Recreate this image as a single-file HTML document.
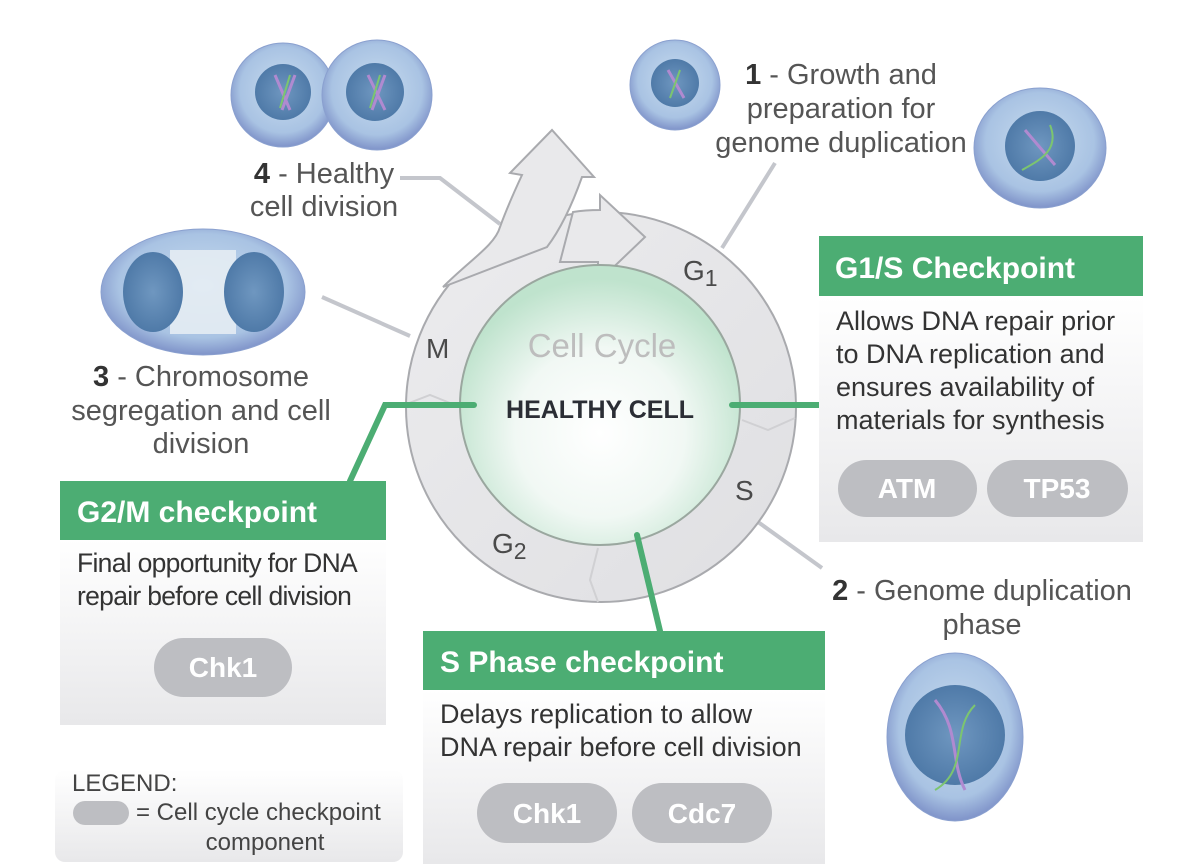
<!DOCTYPE html>
<html><head><meta charset="utf-8"><style>
body{margin:0;background:#fff;}
svg{display:block;font-family:"Liberation Sans",sans-serif;}
</style></head><body>
<svg width="1200" height="864" viewBox="0 0 1200 864" xmlns="http://www.w3.org/2000/svg">
<defs>
<radialGradient id="cellg" cx="50%" cy="45%" r="55%">
<stop offset="0" stop-color="#c8dcef"/><stop offset="0.75" stop-color="#a9c3e3"/><stop offset="1" stop-color="#7f93c9"/></radialGradient>
<radialGradient id="nucg" cx="50%" cy="50%" r="50%">
<stop offset="0" stop-color="#6f97c0"/><stop offset="1" stop-color="#4f7aa8"/></radialGradient>
<radialGradient id="greeng" cx="50%" cy="60%" r="55%">
<stop offset="0" stop-color="#ffffff"/><stop offset="0.55" stop-color="#f1f8f4"/><stop offset="1" stop-color="#bfe3cd"/></radialGradient>
<linearGradient id="boxg" x1="0" y1="0" x2="0" y2="1"><stop offset="0" stop-color="#fff"/><stop offset="1" stop-color="#e8e8ea"/></linearGradient>
<linearGradient id="ringg" x1="0" y1="0" x2="1" y2="1"><stop offset="0" stop-color="#ececee"/><stop offset="1" stop-color="#dfdfe2"/></linearGradient>
</defs>

<g stroke="#c4c6cc" stroke-width="4" fill="none">
<polyline points="400,178 440,178 500,224"/>
<line x1="775" y1="163" x2="722" y2="248"/>
<line x1="322" y1="297" x2="410" y2="336"/>
<line x1="758" y1="522" x2="822" y2="568"/>
</g>

<circle cx="601" cy="407" r="195" fill="url(#ringg)" stroke="#a9aaae" stroke-width="2"/>
<path d="M443,287 C470,260 495,245 500,227 C508,205 515,190 522,175 L510,173 L552,130 L594,177 L582,177 C572,205 560,230 547,247 Z" fill="#e9e9eb" stroke="#a9aaae" stroke-width="2"/>
<path d="M573,212 C585,210 592,210 600,210 L600,195 L645,237 L598,282 L598,262 L560,262 Z" fill="#e9e9eb" stroke="#a9aaae" stroke-width="2"/>
<circle cx="600" cy="405" r="140" fill="url(#greeng)" stroke="#9aa79f" stroke-width="2"/>
<g fill="none" stroke="#d0d0d3" stroke-width="2">
<polyline points="404,405 430,395 455,405"/>
<polyline points="742,420 768,430 795,418"/>
<polyline points="598,548 590,580 598,602"/>
</g>
<text x="602" y="357" font-size="33" fill="#bdbdbd" text-anchor="middle" font-weight="300">Cell Cycle</text>
<text x="600" y="418" font-size="25" fill="#2b2e35" text-anchor="middle" font-weight="bold">HEALTHY CELL</text>
<text x="426" y="358" font-size="28" fill="#4a4a4a">M</text>
<text x="683" y="280" font-size="28" fill="#4a4a4a">G<tspan font-size="23" dy="6">1</tspan></text>
<text x="735" y="500" font-size="28" fill="#4a4a4a">S</text>
<text x="492" y="553" font-size="28" fill="#4a4a4a">G<tspan font-size="23" dy="6">2</tspan></text>

<g stroke="#4cad73" stroke-width="6" fill="none" stroke-linecap="round">
<polyline points="350,481 385,405 474,405"/>
<line x1="732" y1="405" x2="819" y2="405"/>
<line x1="637" y1="535" x2="660" y2="631"/>
</g>

<g>
<circle cx="283" cy="95" r="52" fill="url(#cellg)" stroke="#8aa0cf"/>
<circle cx="377" cy="95" r="55" fill="url(#cellg)" stroke="#8aa0cf"/>
<circle cx="283" cy="92" r="28" fill="url(#nucg)"/><circle cx="375" cy="92" r="29" fill="url(#nucg)"/>
<circle cx="675" cy="85" r="45" fill="url(#cellg)" stroke="#8aa0cf"/>
<circle cx="675" cy="83" r="24" fill="url(#nucg)"/>
<ellipse cx="1040" cy="148" rx="66" ry="60" fill="url(#cellg)" stroke="#8aa0cf"/>
<circle cx="1040" cy="146" r="35" fill="url(#nucg)"/>
<ellipse cx="203" cy="292" rx="102" ry="63" fill="url(#cellg)" stroke="#8aa0cf"/>
<rect x="170" y="250" width="66" height="84" fill="#e4ecf3" opacity="0.9"/>
<ellipse cx="153" cy="292" rx="30" ry="40" fill="url(#nucg)"/><ellipse cx="254" cy="292" rx="30" ry="40" fill="url(#nucg)"/>
<ellipse cx="955" cy="737" rx="68" ry="84" fill="url(#cellg)" stroke="#8aa0cf"/>
<circle cx="955" cy="735" r="50" fill="url(#nucg)"/>
<g stroke="#b08ad0" stroke-width="3" fill="none">
<path d="M275,75 L290,110 M295,75 L282,110"/><path d="M368,75 L385,110 M385,75 L372,110"/>
<path d="M668,70 L684,98"/><path d="M1025,130 L1055,165"/><path d="M935,700 C960,730 950,760 965,790"/>
</g>
<g stroke="#7cc56f" stroke-width="2" fill="none">
<path d="M290,75 L280,108"/><path d="M380,75 L370,108"/><path d="M680,70 L670,98"/>
<path d="M1050,125 C1060,150 1040,160 1022,170"/><path d="M975,705 C950,730 970,770 935,790"/>
</g>
</g>

<g font-size="29" fill="#555" font-weight="300">
<text x="841" y="84" text-anchor="middle"><tspan font-weight="bold" fill="#333">1</tspan> - Growth and</text>
<text x="841" y="118" text-anchor="middle">preparation for</text>
<text x="841" y="152" text-anchor="middle">genome duplication</text>
<text x="324" y="183" text-anchor="middle"><tspan font-weight="bold" fill="#333">4</tspan> - Healthy</text>
<text x="324" y="216" text-anchor="middle">cell division</text>
<text x="201" y="386" text-anchor="middle"><tspan font-weight="bold" fill="#333">3</tspan> - Chromosome</text>
<text x="201" y="420" text-anchor="middle">segregation and cell</text>
<text x="201" y="453" text-anchor="middle">division</text>
<text x="982" y="600" text-anchor="middle"><tspan font-weight="bold" fill="#333">2</tspan> - Genome duplication</text>
<text x="982" y="634" text-anchor="middle">phase</text>
</g>

<rect x="819" y="296" width="324" height="246" fill="url(#boxg)"/>
<rect x="819" y="236" width="324" height="60" fill="#4cad73"/>
<text x="835" y="278" font-size="30" font-weight="bold" fill="#fff">G1/S Checkpoint</text>
<g font-size="27" fill="#333"><text x="836" y="330">Allows DNA repair prior</text><text x="836" y="363">to DNA replication and</text><text x="836" y="396">ensures availability of</text><text x="836" y="429">materials for synthesis</text></g>
<rect x="838" y="460" width="139" height="57" rx="28.5" fill="#bdbec2"/>
<rect x="987" y="460" width="141" height="57" rx="28.5" fill="#bdbec2"/>
<text x="907" y="498" font-size="28" font-weight="bold" fill="#fff" text-anchor="middle">ATM</text>
<text x="1057" y="498" font-size="28" font-weight="bold" fill="#fff" text-anchor="middle">TP53</text>

<rect x="60" y="540" width="326" height="185" fill="url(#boxg)"/>
<rect x="60" y="481" width="326" height="59" fill="#4cad73"/>
<text x="77" y="522" font-size="30" font-weight="bold" fill="#fff">G2/M checkpoint</text>
<g font-size="26.5" fill="#333" letter-spacing="-0.7"><text x="77" y="572">Final opportunity for DNA</text><text x="77" y="605">repair before cell division</text></g>
<rect x="154" y="638" width="138" height="59" rx="29.5" fill="#bdbec2"/>
<text x="223" y="677" font-size="28" font-weight="bold" fill="#fff" text-anchor="middle">Chk1</text>

<rect x="423" y="690" width="402" height="174" fill="url(#boxg)"/>
<rect x="423" y="631" width="402" height="59" fill="#4cad73"/>
<text x="440" y="672" font-size="30" font-weight="bold" fill="#fff">S Phase checkpoint</text>
<g font-size="27" fill="#333"><text x="440" y="723">Delays replication to allow</text><text x="440" y="756">DNA repair before cell division</text></g>
<rect x="477" y="783" width="140" height="60" rx="30" fill="#bdbec2"/>
<rect x="632" y="783" width="140" height="60" rx="30" fill="#bdbec2"/>
<text x="547" y="823" font-size="28" font-weight="bold" fill="#fff" text-anchor="middle">Chk1</text>
<text x="702" y="823" font-size="28" font-weight="bold" fill="#fff" text-anchor="middle">Cdc7</text>

<rect x="55" y="770" width="348" height="92" rx="10" fill="url(#boxg)"/>
<g font-size="24" fill="#444" font-weight="300">
<text x="72" y="791">LEGEND:</text>
<rect x="73" y="801" width="56" height="24" rx="12" fill="#bdbec2"/>
<text x="136" y="820">= Cell cycle checkpoint</text>
<text x="265" y="850" text-anchor="middle">component</text>
</g>
</svg>
</body></html>
